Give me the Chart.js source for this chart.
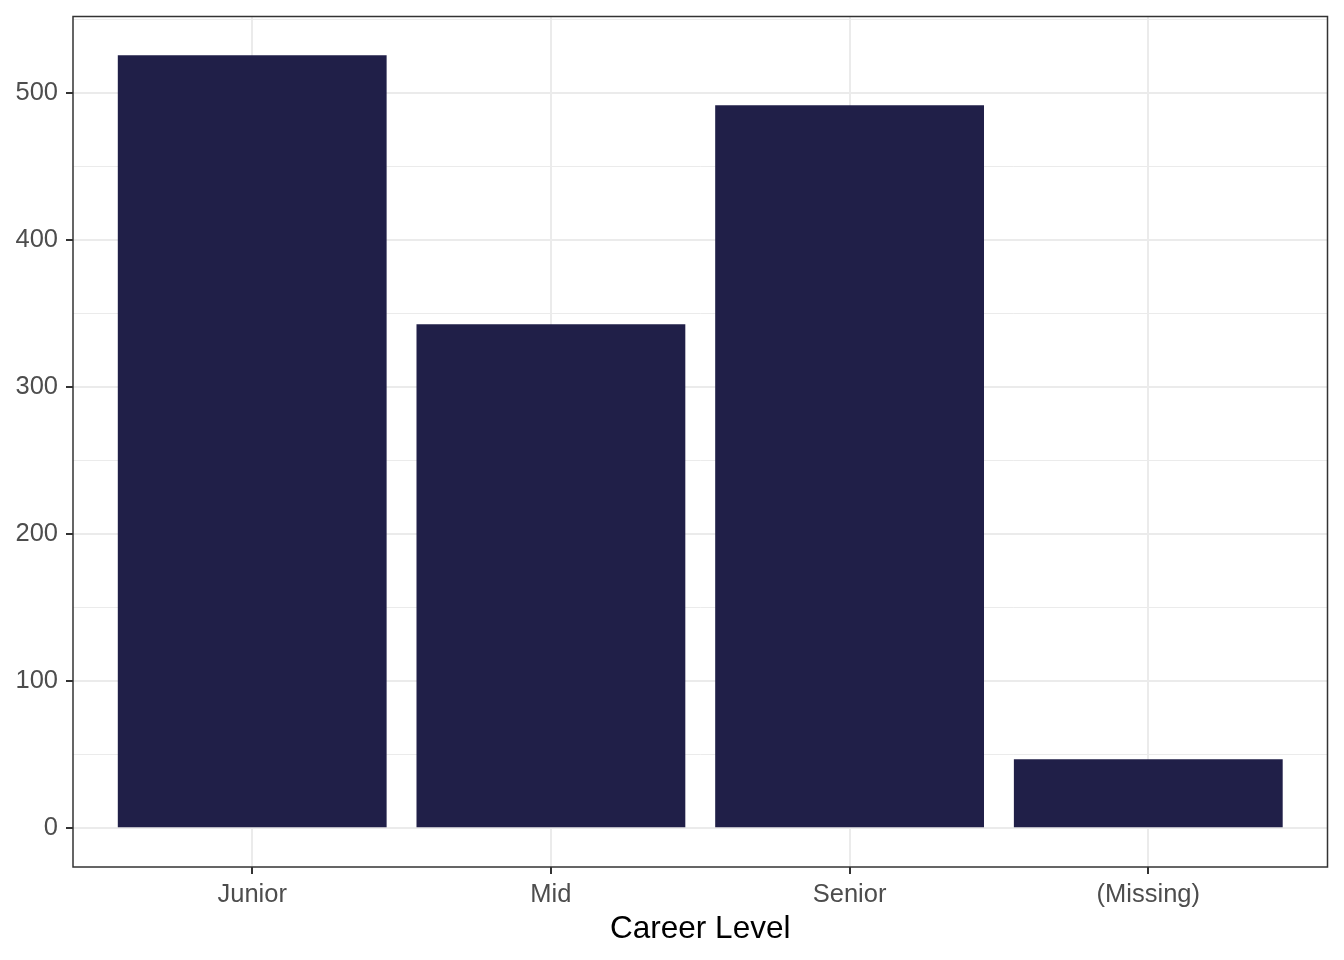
<!DOCTYPE html>
<html>
<head>
<meta charset="utf-8">
<style>
  html, body { margin: 0; padding: 0; background: #ffffff; }
  #wrap { width: 1344px; height: 960px; }
</style>
<script src="https://cdn.jsdelivr.net/npm/chart.js@4.4.1/dist/chart.umd.min.js"></script>
</head>
<body>
<div id="wrap"><canvas id="careerChart" width="1344" height="960"></canvas></div>
<script>
const categories = ["Junior", "Mid", "Senior", "(Missing)"];
const counts = [526, 343, 492, 47];
const yTicks = [0, 50, 100, 150, 200, 250, 300, 350, 400, 450, 500, 550];
const xPositions = [1, 2, 3, 4];

const FONT = "'Liberation Sans', Arial, Helvetica, sans-serif";

// panel border like theme_bw
const panelBorder = {
  id: "panelBorder",
  afterDraw(chart) {
    const { ctx, chartArea: a } = chart;
    ctx.save();
    ctx.strokeStyle = "#333333";
    ctx.lineWidth = 1.5;
    ctx.strokeRect(a.left, a.top, a.right - a.left, a.bottom - a.top);
    ctx.restore();
  },
};

const ctx = document.getElementById("careerChart");

new Chart(ctx, {
  type: "bar",
  data: {
    datasets: [
      {
        data: counts.map((v, i) => ({ x: xPositions[i], y: v })),
        backgroundColor: "#201F48",
        borderWidth: 0,
        inflateAmount: 0,
        barPercentage: 0.9,
        categoryPercentage: 1.0,
      },
    ],
  },
  options: {
    responsive: false,
    devicePixelRatio: 1,
    animation: false,
    layout: { padding: { left: 0, top: 16.5, right: 16.5, bottom: 0 } },
    plugins: {
      legend: { display: false },
      tooltip: { enabled: false },
    },
    scales: {
      x: {
        type: "linear",
        min: 0.4,
        max: 4.6,
        offset: false,
        afterBuildTicks: (scale) => {
          scale.ticks = xPositions.map((v) => ({ value: v }));
        },
        afterFit: (scale) => {
          scale.height = 93;
        },
        ticks: {
          autoSkip: false,
          maxRotation: 0,
          padding: 6,
          color: "#4d4d4d",
          font: { family: FONT, size: 25.5 },
          callback: (v) => categories[v - 1] || "",
        },
        grid: {
          offset: false,
          color: "#ebebeb",
          lineWidth: 2,
          tickColor: "#333333",
          tickLength: 7,
          tickWidth: 2,
        },
        border: { display: false },
        title: {
          display: true,
          text: "Career Level",
          color: "#000000",
          font: { family: FONT, size: 31.5 },
          padding: { top: 0, bottom: 12 },
        },
      },
      y: {
        min: -26.3,
        max: 552.3,
        afterBuildTicks: (scale) => {
          scale.ticks = yTicks.map((v) => ({ value: v }));
        },
        afterFit: (scale) => {
          scale.width = 73;
          scale.paddingTop = 0;
          scale.paddingBottom = 0;
        },
        ticks: {
          autoSkip: false,
          padding: 8,
          color: "#4d4d4d",
          font: { family: FONT, size: 25.5 },
          callback: (v) => (v % 100 === 0 ? v : ""),
        },
        grid: {
          color: "#ebebeb",
          lineWidth: (c) => (c.tick && c.tick.value % 100 === 0 ? 2 : 1),
          tickColor: (c) =>
            c.tick && c.tick.value % 100 === 0 ? "#333333" : "rgba(0,0,0,0)",
          tickLength: 7,
          tickWidth: 2,
        },
        border: { display: false },
      },
    },
  },
  plugins: [panelBorder],
});
</script>
</body>
</html>
